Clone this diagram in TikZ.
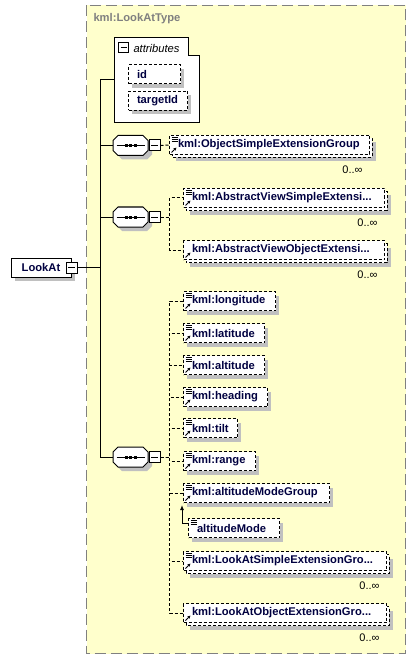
\documentclass[tikz,border=0pt]{standalone}
\usepackage{fontspec}
\setmainfont{Liberation Sans}
\usepackage{tikz}
\usetikzlibrary{positioning, arrows.meta}

\definecolor{schemafill}{RGB}{255,255,204}
\definecolor{schemaline}{RGB}{128,128,128}
\definecolor{shadowgray}{RGB}{192,192,192}
\definecolor{namenavy}{RGB}{0,0,64}

% small icons drawn inside the element boxes
\newcommand{\iconlines}{%
  \foreach \k in {1.5pt,3.5pt,5.5pt}
    \draw[solid, line width=0.8pt] ([xshift=2pt, yshift=-\k]path picture bounding box.north west) -- ++(6pt,0pt);}
\newcommand{\iconref}{%
  \draw[solid, line width=0.9pt, -{Latex[length=3pt,width=3.5pt]}] ([xshift=2pt, yshift=2pt]path picture bounding box.south west) -- ++(5pt,5pt);}
% outline of a sequence compositor round its centre
\newcommand{\octagon}[2]{(#1-12.5,#2-10) -- (#1+12.5,#2-10) -- (#1+17.5,#2-5) -- (#1+17.5,#2+5) -- (#1+12.5,#2+10) -- (#1-12.5,#2+10) -- (#1-17.5,#2+5) -- (#1-17.5,#2-5) -- cycle}
% outline of a box: left, middle, width, offset
\newcommand{\boxpath}[4]{(#1+#4,#2-9.5+#4) -- (#1+#3+#4,#2-9.5+#4) -- (#1+#3+#4,#2+9.5+#4) -- (#1+#4,#2+9.5+#4) -- cycle}

\begin{document}
\begin{tikzpicture}[x=1pt, y=-1pt, line width=1pt, every node/.style={font=\fontsize{11.2}{13}\selectfont}]
			\tikzstyle{elem}=[draw, fill=white, dash pattern=on 3pt off 2pt, anchor=west, minimum height=19pt, inner xsep=8.5pt, inner ysep=2pt, font=\fontsize{11.2}{13}\selectfont\bfseries, text=namenavy, align=left]
			\tikzstyle{simple}=[path picture={\iconlines\iconref}]
			\tikzstyle{complex}=[path picture={\iconref}]
			\tikzstyle{local}=[path picture={\iconlines}]
			\tikzstyle{minus}=[draw, solid, fill=white, minimum size=11pt, inner sep=0pt, path picture={\draw ([xshift=2pt]path picture bounding box.west) -- ([xshift=-2pt]path picture bounding box.east);}]
			\tikzstyle{seq}=[rectangle, minimum width=35pt, minimum height=20pt, inner sep=0pt]
			\tikzstyle{mult}=[anchor=north east, inner sep=0pt, font=\fontsize{11}{13}\selectfont]
			\tikzstyle{conn}=[dash pattern=on 3pt off 2pt]
			\useasboundingbox (0,0) rectangle (416,660);
			% complex type frame
			\draw[fill=schemafill, draw=schemaline, dash pattern=on 11pt off 5pt] (86.5,5.5) rectangle (405.5,653.5);
			\node[anchor=west, inner sep=0pt, text=schemaline, font=\fontsize{11.2}{13}\selectfont\bfseries] (title) at (93,19) {kml:LookAtType};
			% attributes
			\draw[fill=white] (114,38) -- (188,38) -- (188,56) -- (199,56) -- (199,123) -- (114,123) -- cycle;
			\node[anchor=west, inner sep=0pt, font=\fontsize{11.2}{13}\selectfont\itshape] (attrlabel) at (133,48) {attributes};
			% shadows, drawn under the boxes
			\fill[shadowgray] \boxpath{128}{74.5}{52}{4};
			\fill[shadowgray] \boxpath{128}{101}{59}{4};
			\fill[shadowgray] \boxpath{11}{267.5}{60}{4};
			\fill[shadowgray] \boxpath{183}{301}{92}{4};
			\fill[shadowgray] \boxpath{183}{333}{81}{4};
			\fill[shadowgray] \boxpath{183}{365}{81}{4};
			\fill[shadowgray] \boxpath{183}{397}{84}{4};
			\fill[shadowgray] \boxpath{183}{428}{54}{4};
			\fill[shadowgray] \boxpath{183}{461}{72}{4};
			\fill[shadowgray] \boxpath{183}{493}{146}{4};
			\fill[shadowgray] \boxpath{188}{528}{91}{4};
			\fill[shadowgray] \boxpath{169}{145}{200}{7};
			\fill[shadowgray] \boxpath{183}{198}{201}{7};
			\fill[shadowgray] \boxpath{183}{250}{201}{7};
			\fill[shadowgray] \boxpath{183}{561}{203}{7};
			\fill[shadowgray] \boxpath{183}{613}{203}{7};
			% copies behind the repeated elements
			\draw[fill=white, conn] \boxpath{169}{145}{200}{3};
			\draw[fill=white, conn] \boxpath{183}{198}{201}{3};
			\draw[fill=white, conn] \boxpath{183}{250}{201}{3};
			\draw[fill=white, conn] \boxpath{183}{561}{203}{3};
			\draw[fill=white, conn] \boxpath{183}{613}{203}{3};
			\node[elem, text width=35pt] (id) at (128,74.5) {id};
			\node[elem, text width=42pt] (tid) at (128,101) {targetId};
			\coordinate (attr) at (114,80);
			% sequences
			\foreach \y in {145.5, 217, 457}
				{\fill[shadowgray] \octagon{134.5}{\y+4};
				 \draw[fill=white] \octagon{130.5}{\y};}
			\node[seq] (s1) at (130.5,145.5) {};
			\node[seq] (s2) at (130.5,217) {};
			\node[seq] (s3) at (130.5,457) {};
			\foreach \s in {s1, s2, s3} {
				\draw ([xshift=4pt]\s.west) -- ([xshift=-4pt]\s.east);
				\foreach \d in {-4.5pt,0pt,4.5pt}
					{\fill ([xshift=\d]\s.center) ++(-1.5pt,-1.5pt) rectangle ++(3pt,3pt);}
			}
			% root element
			\node[draw, fill=white, minimum width=60pt, minimum height=19pt, font=\fontsize{11.2}{13}\selectfont\bfseries, text=namenavy] (lookat) at (41,267.5) {LookAt};
			\coordinate (trunk) at (100,267.5);
			% elements
			\node[elem, simple, text width=183pt] (os) at (169,145) {kml:ObjectSimpleExtensionGroup};
			\node[elem, simple, text width=184pt] (avs) at (183,198) {kml:AbstractViewSimpleExtensi...};
			\node[elem, complex, text width=184pt] (avo) at (183,250) {kml:AbstractViewObjectExtensi...};
			\node[elem, simple, text width=75pt] (lon) at (183,301) {kml:longitude};
			\node[elem, simple, text width=64pt] (lat) at (183,333) {kml:latitude};
			\node[elem, simple, text width=64pt] (alt) at (183,365) {kml:altitude};
			\node[elem, simple, text width=67pt] (hd) at (183,397) {kml:heading};
			\node[elem, simple, text width=37pt] (tilt) at (183,428) {kml:tilt};
			\node[elem, simple, text width=55pt] (rng) at (183,461) {kml:range};
			\node[elem, simple, text width=129pt] (amg) at (183,493) {kml:altitudeModeGroup};
			\node[elem, local, text width=74pt] (am) at (188,528) {altitudeMode};
			\node[elem, simple, text width=186pt] (las) at (183,561) {kml:LookAtSimpleExtensionGro...};
			\node[elem, complex, text width=186pt] (lao) at (183,613) {kml:LookAtObjectExtensionGro...};
			% collapse boxes
			\node[minus, minimum size=10pt] (amin) at (123.5,48) {};
			\node[minus] (lmin) at (lookat.east) {};
			\node[minus, anchor=west] (m1) at (s1.east) {};
			\node[minus, anchor=west] (m2) at (s2.east) {};
			\node[minus, anchor=west] (m3) at (s3.east) {};
			% occurrences
			\foreach \e in {os, avs, avo, las, lao}
				{\node[mult] (\e m) at ([xshift=-7pt, yshift=-10pt]\e.south east) {0..∞};}
			% connectors
			\draw (lmin.east) -- (trunk);
			\foreach \t in {attr, s1.west, s2.west, s3.west}
				{\draw (trunk) |- (\t);}
			\draw[conn] (m1.east) -- (os.west);
			\foreach \t in {avs, avo}
				{\draw[conn] (m2.east) -- ++(9pt,0pt) |- (\t.west);}
			\foreach \t in {lon, lat, alt, hd, tilt, rng, amg, las, lao}
				{\draw[conn] (m3.east) -- ++(9pt,0pt) |- (\t.west);}
			\draw[-{Latex[length=5pt,width=4pt]}] ([yshift=5pt]am.west) -| ([xshift=-1pt,yshift=-2pt]amg.south west);
		\end{tikzpicture}
\end{document}
